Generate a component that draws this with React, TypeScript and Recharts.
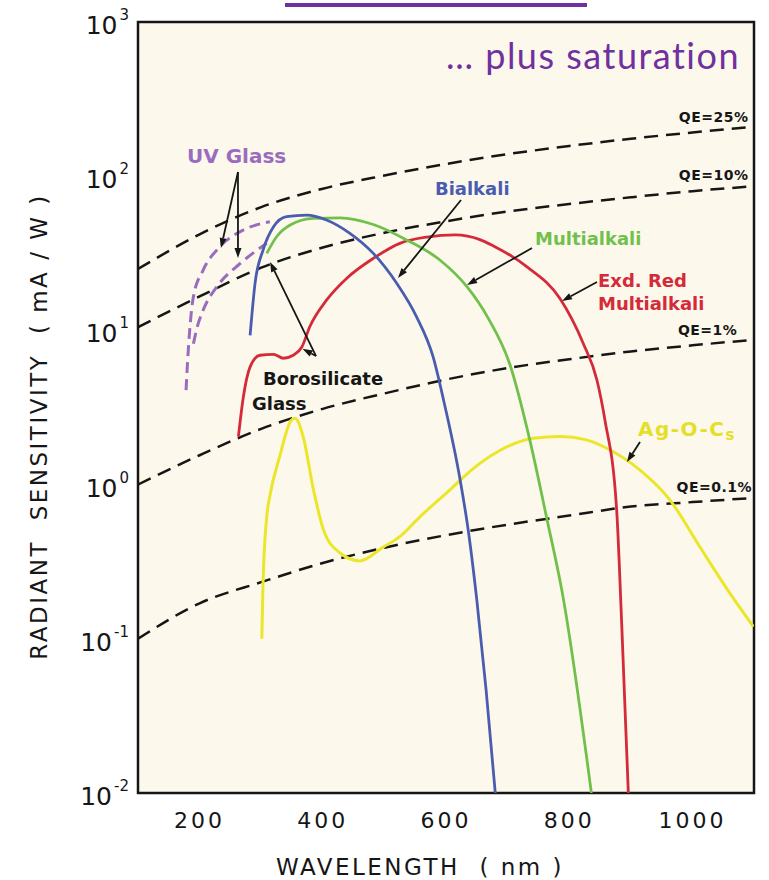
import React from "react";
import {
  LineChart,
  Line,
  XAxis,
  YAxis,
  ReferenceLine,
  ReferenceDot,
  ReferenceArea,
} from "recharts";

// wavelength (nm) / radiant sensitivity (mA/W)
const qeNm = [100, 200, 300, 400, 500, 600, 700, 800, 900, 1000, 1100];
const qe25 = [25, 42, 63, 83, 101, 120, 139, 157, 175, 192, 209];
const qe10 = [10.5, 16.6, 25.5, 34.5, 43, 51, 59, 66, 73, 80, 86];
const qe1 = [1.0, 1.55, 2.3, 3.1, 3.9, 4.8, 5.7, 6.5, 7.3, 8.0, 8.7];
const qe01 = [0.1, 0.17, 0.233, 0.31, 0.39, 0.47, 0.55, 0.63, 0.72, 0.77, 0.82];

const bialkaliNm = [282, 290, 303, 320, 341, 374, 406, 444, 482, 520, 552, 579, 596, 623, 636, 650, 665, 680];
const bialkali = [9.3, 20.2, 33.2, 47, 54.7, 56, 52, 42.6, 31.6, 20.2, 12.3, 6.75, 3.54, 1.07, 0.51, 0.179, 0.047, 0.01];

const multiNm = [309, 325, 347, 385, 428, 482, 536, 590, 634, 668, 704, 736, 763, 790, 836];
const multi = [31.6, 40.5, 48.2, 53.3, 53.7, 48.6, 38.6, 28.6, 19.2, 12.1, 5.97, 1.95, 0.62, 0.187, 0.01];

const extRedNm = [263, 271, 282, 298, 320, 336, 352, 366, 379, 406, 439, 482, 525, 569, 615, 655, 677, 731, 785, 823, 845, 858, 877, 885, 896];
const extRed = [2.05, 3.7, 5.8, 6.9, 7.0, 6.6, 6.9, 7.8, 10.6, 15.7, 21.8, 29.3, 36.7, 40.3, 41.6, 38.8, 35.3, 25.9, 16.1, 8.2, 4.77, 2.62, 0.69, 0.132, 0.01];

const agocsNm = [301, 303, 309, 314, 330, 349, 355, 368, 385, 401, 428, 460, 498, 525, 558, 612, 623, 688, 742, 785, 828, 861, 915, 964, 1012, 1061, 1099];
const agocs = [0.1, 0.23, 0.62, 0.84, 1.52, 2.62, 2.69, 2.05, 0.92, 0.51, 0.36, 0.32, 0.393, 0.46, 0.62, 0.97, 1.07, 1.67, 2.0, 2.05, 1.95, 1.72, 1.24, 0.79, 0.395, 0.197, 0.12];

const uvOuterNm = [178, 180, 184, 190, 206, 233, 271, 314];
const uvOuter = [4.1, 5.8, 10.1, 16.6, 24.7, 34.9, 44.8, 50.7];
const uvInnerNm = [190, 195, 206, 228, 266, 309];
const uvInner = [8.2, 10.1, 13.6, 19.2, 27.2, 36.7];

const xTickNm = [200, 300, 400, 500, 600, 700, 800, 900, 1000];
const xLabelNm = [200, 400, 600, 800, 1000];
const yDecades = [0.01, 0.1, 1, 10, 100, 1000];
const yMinorSteps = [2, 3, 4, 5, 6, 7, 8, 9];

const yMinorTicks = yDecades.flatMap((d) => (d === 1000 ? [] : yMinorSteps.map((m) => d * m)));
const yTicks = [...yDecades, ...yMinorTicks].sort((a, b) => a - b);

const isDecade = (v: number) => {
  const lg = Math.log10(v);
  return Math.abs(lg - Math.round(lg)) < 1e-6;
};

const pts = (nm: number[], s: number[]) => nm.map((x, i) => ({ x, y: s[i] }));

const INK = "#161616";
const AXIS_FONT = "DejaVu Sans";

const XTick = (props: any) => {
  const x = Number(props.x);
  const y = Number(props.y);
  const v = props.payload?.value;
  if (!xLabelNm.includes(v)) return <g />;
  return (
    <text x={x} y={y + 35} textAnchor="middle" fontFamily={AXIS_FONT} fontSize={22} letterSpacing={3} fill={INK}>
      {v}
    </text>
  );
};

const YTick = (props: any) => {
  const x = Number(props.x);
  const y = Number(props.y);
  const v = props.payload?.value;
  if (!isDecade(v)) return <g />;
  const e = Math.round(Math.log10(v));
  return (
    <text x={x - 9} y={y + 12} textAnchor="end" fontFamily={AXIS_FONT} fontSize={25} fill={INK}>
      10
      <tspan dy={-14} fontSize={15} dx={2}>
        {e}
      </tspan>
    </text>
  );
};

const Arrow = (p: any) => {
  const { x1, y1, x2, y2 } = p;
  const a = Math.atan2(y2 - y1, x2 - x1);
  const L = 10;
  const W = 3.5;
  const bx = x2 - L * Math.cos(a);
  const by = y2 - L * Math.sin(a);
  const nx = -Math.sin(a) * W;
  const ny = Math.cos(a) * W;
  return (
    <g>
      <line x1={x1} y1={y1} x2={bx} y2={by} stroke={INK} strokeWidth={1.8} />
      <polygon points={`${x2},${y2} ${bx + nx},${by + ny} ${bx - nx},${by - ny}`} fill={INK} />
    </g>
  );
};

type Note = { x: number; y: number; text: string; color: string; size: number; anchor?: string; sub?: string; ls?: number };

const notes: Note[] = [
  { x: 179.5, y: 121.8, text: "UV Glass", color: "#9a6cbf", size: 20 },
  { x: 582, y: 75.5, text: "Bialkali", color: "#4a5cb0", size: 18 },
  { x: 744.5, y: 35.8, text: "Multialkali", color: "#72c04c", size: 18 },
  { x: 846.8, y: 19.1, text: "Exd.  Red", color: "#d42a3a", size: 18 },
  { x: 846.8, y: 13.6, text: "Multialkali", color: "#d42a3a", size: 18 },
  { x: 302.9, y: 4.43, text: "Borosilicate", color: INK, size: 18 },
  { x: 285.1, y: 3.05, text: "Glass", color: INK, size: 18 },
  { x: 911.7, y: 2.07, text: "Ag-O-C", sub: "s", color: "#e6df2a", size: 20, ls: 1.5 },
  { x: 1091, y: 224.6, text: "QE=25%", color: INK, size: 14, anchor: "end", ls: 0.5 },
  { x: 1091, y: 94.5, text: "QE=10%", color: INK, size: 14, anchor: "end", ls: 0.5 },
  { x: 1073, y: 9.33, text: "QE=1%", color: INK, size: 14, anchor: "end", ls: 0.5 },
  { x: 1097, y: 0.895, text: "QE=0.1%", color: INK, size: 14, anchor: "end", ls: 0.5 },
];

const arrows = [
  [262.3, 106.4, 234.7, 34.2],
  [262.3, 106.4, 262.3, 29.5],
  [389, 6.82, 314.3, 27.8],
  [389, 6.82, 367, 7.6],
  [624.4, 70.1, 522, 21.9],
  [739.6, 34.2, 634.1, 19.7],
  [845.1, 20.6, 788.3, 15.5],
  [914.9, 1.89, 893.8, 1.4],
];

const curve = (key: string, data: any[], color: string, width = 2.8, dash?: string) => (
  <Line
    key={key}
    data={data}
    dataKey="y"
    type="monotone"
    stroke={color}
    strokeWidth={width}
    strokeDasharray={dash}
    dot={false}
    activeDot={false}
    isAnimationActive={false}
  />
);

const tickLineStyle = { stroke: INK, strokeWidth: 2 };

export default function App() {
  return (
    <div style={{ position: "absolute", left: 0, top: 0, width: 769, height: 880, background: "#fff" }}>
      <div style={{ position: "absolute", left: 285, top: 3, width: 302, height: 4, background: "#7030a0" }} />
      {/* cream plot background sits behind the transparent chart svg */}
      <div style={{ position: "absolute", left: 138, top: 22, width: 616, height: 771, background: "#fcf9ec" }} />
      <div style={{ position: "absolute", left: 0, top: 0 }}>
        <LineChart width={769} height={880} margin={{ top: 22, right: 15, bottom: 0, left: 0 }}>
          <XAxis
            type="number"
            dataKey="x"
            domain={[100, 1100]}
            ticks={xTickNm}
            interval={0}
            height={87}
            tickSize={0}
            tickMargin={0}
            axisLine={false}
            tickLine={false}
            tick={(p: any) => <XTick {...p} />}
            allowDataOverflow
          />
          {/* mirrored helper axes only draw the inward tick marks */}
          <XAxis
            xAxisId="xMarks"
            type="number"
            dataKey="x"
            domain={[100, 1100]}
            ticks={xTickNm}
            interval={0}
            mirror
            height={30}
            tickSize={12}
            stroke={INK}
            axisLine={false}
            tickLine={tickLineStyle}
            tick={false}
            allowDataOverflow
          />
          <YAxis
            type="number"
            scale="log"
            domain={[0.01, 1000]}
            ticks={yTicks}
            interval={0}
            width={138}
            tickSize={0}
            tickMargin={0}
            axisLine={false}
            tickLine={false}
            tick={(p: any) => <YTick {...p} />}
            allowDataOverflow
          />
          <YAxis
            yAxisId="yMajorMarks"
            type="number"
            scale="log"
            domain={[0.01, 1000]}
            ticks={yDecades}
            interval={0}
            mirror
            width={30}
            tickSize={16}
            stroke={INK}
            axisLine={false}
            tickLine={tickLineStyle}
            tick={false}
            allowDataOverflow
          />
          <YAxis
            yAxisId="yMinorMarks"
            type="number"
            scale="log"
            domain={[0.01, 1000]}
            ticks={yMinorTicks}
            interval={0}
            mirror
            width={30}
            tickSize={12}
            stroke={INK}
            axisLine={false}
            tickLine={tickLineStyle}
            tick={false}
            allowDataOverflow
          />
          {curve("qe25", pts(qeNm, qe25), INK, 2.5, "14 8")}
          {curve("qe10", pts(qeNm, qe10), INK, 2.5, "14 8")}
          {curve("qe1", pts(qeNm, qe1), INK, 2.5, "14 8")}
          {curve("qe01", pts(qeNm, qe01), INK, 2.5, "14 8")}
          {curve("uvOuter", pts(uvOuterNm, uvOuter), "#9a6cbf", 3, "11 6")}
          {curve("uvInner", pts(uvInnerNm, uvInner), "#9a6cbf", 3, "11 6")}
          {curve("agocs", pts(agocsNm, agocs), "#ece62a", 3)}
          {curve("extRed", pts(extRedNm, extRed), "#d42a3a")}
          {curve("multi", pts(multiNm, multi), "#72c04c")}
          {curve("bialkali", pts(bialkaliNm, bialkali), "#4a5cb0")}
          {arrows.map(([xa, ya, xb, yb], i) => (
            <ReferenceLine
              key={`arrow-${i}`}
              segment={[
                { x: xa, y: ya },
                { x: xb, y: yb },
              ]}
              shape={(p: any) => <Arrow {...p} />}
            />
          ))}
          {notes.map((n, i) => (
            <ReferenceDot
              key={`note-${i}`}
              x={n.x}
              y={n.y}
              r={1}
              shape={(p: any) => (
                <text
                  x={p.cx}
                  y={p.cy}
                  fill={n.color}
                  fontSize={n.size}
                  fontWeight="bold"
                  fontFamily={AXIS_FONT}
                  letterSpacing={n.ls || 0}
                  textAnchor={n.anchor || "start"}
                >
                  {n.text}
                  {n.sub && (
                    <tspan dy={4} fontSize={n.size * 0.75}>
                      {n.sub}
                    </tspan>
                  )}
                </text>
              )}
            />
          ))}
          <ReferenceArea x1={100} x2={1100} y1={0.01} y2={1000} fill="none" stroke={INK} strokeWidth={2.5} />
        </LineChart>
      </div>
      <div
        style={{
          position: "absolute",
          left: 0,
          width: 740,
          top: 37,
          textAlign: "right",
          fontFamily: "Lato",
          fontSize: 36,
          lineHeight: "36px",
          letterSpacing: 1.5,
          color: "#7030a0",
        }}
      >
        … plus saturation
      </div>
      <div
        style={{
          position: "absolute",
          left: 120,
          width: 600,
          top: 856,
          textAlign: "center",
          fontFamily: AXIS_FONT,
          fontSize: 23,
          lineHeight: "23px",
          letterSpacing: 2.5,
          color: INK,
        }}
      >
        WAVELENGTH&nbsp; ( nm )
      </div>
      <div
        style={{
          position: "absolute",
          left: 39 - 300,
          width: 600,
          top: 426 - 11.5,
          textAlign: "center",
          fontFamily: AXIS_FONT,
          fontSize: 23,
          lineHeight: "23px",
          letterSpacing: 2.5,
          color: INK,
          transform: "rotate(-90deg)",
          whiteSpace: "nowrap",
        }}
      >
        RADIANT&nbsp; SENSITIVITY&nbsp; ( mA / W )
      </div>
    </div>
  );
}
